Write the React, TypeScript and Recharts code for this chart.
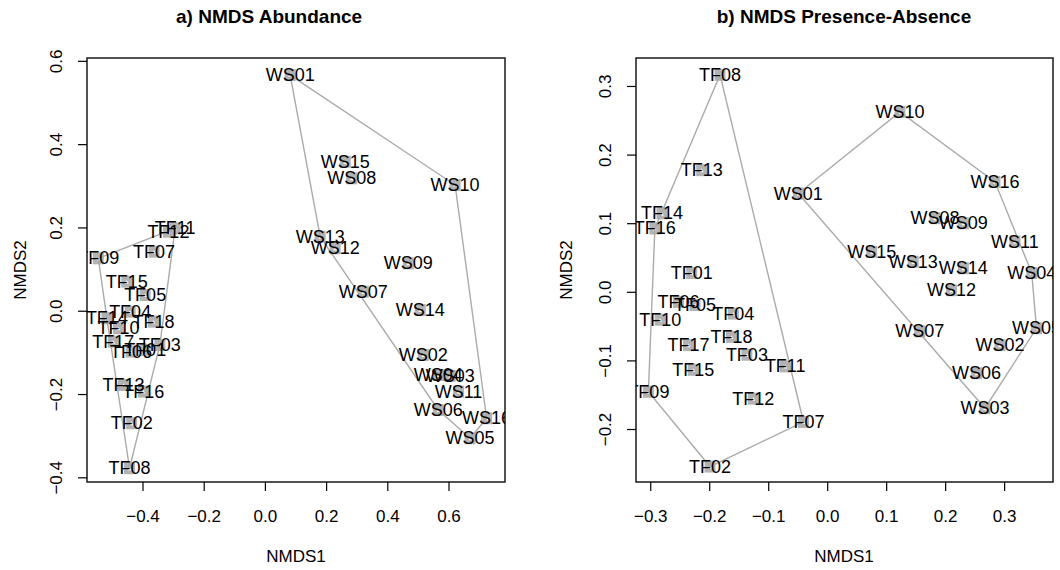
import { ScatterChart, Scatter, XAxis, YAxis, ReferenceArea } from "recharts";

// site codes, same order in both ordinations
const sites = [
  "TF01", "TF02", "TF03", "TF04", "TF05", "TF06", "TF07", "TF08", "TF09",
  "TF10", "TF11", "TF12", "TF13", "TF14", "TF15", "TF16", "TF17", "TF18",
  "WS01", "WS02", "WS03", "WS04", "WS05", "WS06", "WS07", "WS08",
  "WS09", "WS10", "WS11", "WS12", "WS13", "WS14", "WS15", "WS16",
];

// a) abundance NMDS scores
const abundanceNmds1 = [
  -0.393, -0.437, -0.345, -0.442, -0.393, -0.439, -0.364, -0.444, -0.546,
  -0.48, -0.295, -0.317, -0.464, -0.518, -0.453, -0.399, -0.497, -0.366,
  0.081, 0.516, 0.604, 0.565, 0.669, 0.565, 0.32, 0.282,
  0.467, 0.62, 0.631, 0.228, 0.179, 0.506, 0.261, 0.723,
];
const abundanceNmds2 = [
  -0.093, -0.269, -0.081, -0.001, 0.039, -0.097, 0.143, -0.377, 0.127,
  -0.041, 0.199, 0.191, -0.177, -0.017, 0.071, -0.193, -0.073, -0.025,
  0.567, -0.105, -0.155, -0.153, -0.305, -0.237, 0.047, 0.319,
  0.115, 0.303, -0.193, 0.151, 0.179, 0.003, 0.359, -0.257,
];

// b) presence-absence NMDS scores
const presenceNmds1 = [
  -0.2305, -0.1995, -0.137, -0.16, -0.225, -0.253, -0.041, -0.1825, -0.304,
  -0.284, -0.072, -0.126, -0.2136, -0.281, -0.228, -0.293, -0.236, -0.163,
  -0.0498, 0.292, 0.2666, 0.346, 0.354, 0.2525, 0.156, 0.182,
  0.23, 0.1225, 0.3175, 0.21, 0.145, 0.23, 0.0746, 0.2836,
];
const presenceNmds2 = [
  0.028, -0.254, -0.091, -0.031, -0.0185, -0.014, -0.189, 0.317, -0.145,
  -0.04, -0.108, -0.155, 0.178, 0.115, -0.113, 0.093, -0.077, -0.065,
  0.144, -0.077, -0.169, 0.028, -0.0525, -0.118, -0.057, 0.108,
  0.1005, 0.263, 0.074, 0.003, 0.0446, 0.035, 0.059, 0.161,
];

const abundanceTicksX = [-0.4, -0.2, 0, 0.2, 0.4, 0.6];
const abundanceTicksY = [-0.4, -0.2, 0, 0.2, 0.4, 0.6];
const presenceTicksX = [-0.3, -0.2, -0.1, 0, 0.1, 0.2, 0.3];
const presenceTicksY = [-0.2, -0.1, 0, 0.1, 0.2, 0.3];

const FONT = "'Liberation Sans', Arial, Helvetica, sans-serif";
const HULL_COLOR = "#ababab";
const MARK_COLOR = "#b3b3b3";

type Pt = { x: number; y: number; name: string };

const fmt = (v: number) => (v < 0 ? "\u2212" : "") + Math.abs(v).toFixed(1);

function hull(pts: Pt[]): Pt[] {
  const s = [...pts].sort((a, b) => a.x - b.x || a.y - b.y);
  const cross = (o: Pt, a: Pt, b: Pt) =>
    (a.x - o.x) * (b.y - o.y) - (a.y - o.y) * (b.x - o.x);
  const lower: Pt[] = [];
  for (const p of s) {
    while (lower.length >= 2 && cross(lower[lower.length - 2], lower[lower.length - 1], p) <= 0) lower.pop();
    lower.push(p);
  }
  const upper: Pt[] = [];
  for (const p of [...s].reverse()) {
    while (upper.length >= 2 && cross(upper[upper.length - 2], upper[upper.length - 1], p) <= 0) upper.pop();
    upper.push(p);
  }
  lower.pop();
  upper.pop();
  const h = lower.concat(upper);
  return [...h, h[0]];
}

function SquareMark(props: any) {
  const { cx, cy } = props;
  if (cx == null || cy == null) return <g />;
  return (
    <g>
      <rect x={cx - 5.5} y={cy - 6} width={11} height={12} fill={MARK_COLOR} />
      <polygon
        points={`${cx - 1.8},${cy + 2} ${cx + 1.8},${cy + 2} ${cx},${cy - 1.4}`}
        fill="#ffffff"
      />
    </g>
  );
}

function LabelMark(props: any) {
  const { cx, cy, payload } = props;
  if (cx == null || cy == null) return <g />;
  return (
    <text
      x={cx}
      y={cy}
      textAnchor="middle"
      dominantBaseline="central"
      fontFamily={FONT}
      fontSize={18}
      fill="#000"
    >
      {payload.name}
    </text>
  );
}

const NoMark = () => <g />;

type PanelProps = {
  xs: number[];
  ys: number[];
  xTicks: number[];
  yTicks: number[];
  xDomain: [number, number];
  yDomain: [number, number];
  yAxisWidth: number;
  marginRight: number;
};

const CHART_W = 530;
const CHART_H = 570;
const X_AXIS_H = 88;
const TOP = 58;

function Panel({ xs, ys, xTicks, yTicks, xDomain, yDomain, yAxisWidth, marginRight }: PanelProps) {
  const pts: Pt[] = sites.map((name, i) => ({ x: xs[i], y: ys[i], name }));
  const tf = hull(pts.filter((p) => p.name.startsWith("TF")));
  const ws = hull(pts.filter((p) => p.name.startsWith("WS")));
  const boxBottom = CHART_H - X_AXIS_H;

  const XTick = (p: any) => (
    <text x={p.x} y={boxBottom + 40} textAnchor="middle" fontFamily={FONT} fontSize={17} fill="#000">
      {fmt(p.payload.value)}
    </text>
  );
  const YTick = (p: any) => {
    const bx = yAxisWidth - 25;
    return (
      <text
        x={bx}
        y={p.y}
        transform={`rotate(-90, ${bx}, ${p.y})`}
        textAnchor="middle"
        fontFamily={FONT}
        fontSize={17}
        fill="#000"
      >
        {fmt(p.payload.value)}
      </text>
    );
  };

  return (
    <ScatterChart
      width={CHART_W}
      height={CHART_H}
      margin={{ top: TOP, right: marginRight, bottom: 0, left: 0 }}
    >
      <XAxis
        type="number"
        dataKey="x"
        domain={xDomain}
        ticks={xTicks}
        interval={0}
        allowDataOverflow
        axisLine={false}
        tickLine={{ stroke: "#000", strokeWidth: 1.2 }}
        tickSize={9}
        height={X_AXIS_H}
        tick={XTick}
      />
      <YAxis
        type="number"
        dataKey="y"
        domain={yDomain}
        ticks={yTicks}
        interval={0}
        allowDataOverflow
        axisLine={false}
        tickLine={{ stroke: "#000", strokeWidth: 1.2 }}
        tickSize={9}
        width={yAxisWidth}
        tick={YTick}
      />
      <Scatter data={pts} shape={SquareMark} isAnimationActive={false} />
      <Scatter
        data={tf}
        shape={NoMark}
        line={{ stroke: HULL_COLOR, strokeWidth: 1.4 }}
        isAnimationActive={false}
      />
      <Scatter
        data={ws}
        shape={NoMark}
        line={{ stroke: HULL_COLOR, strokeWidth: 1.4 }}
        isAnimationActive={false}
      />
      <Scatter data={pts} shape={LabelMark} isAnimationActive={false} />
      <ReferenceArea
        x1={xDomain[0]}
        x2={xDomain[1]}
        y1={yDomain[0]}
        y2={yDomain[1]}
        fill="none"
        stroke="#1a1a1a"
        strokeWidth={1.5}
        fillOpacity={0}
        ifOverflow="visible"
      />
    </ScatterChart>
  );
}

export default function App() {
  const textStyle = { fontFamily: FONT, fill: "#000" };
  return (
    <div style={{ position: "absolute", left: 0, top: 0, width: 1060, height: 570, background: "#fff", overflow: "hidden" }}>
      <div style={{ position: "absolute", left: 0, top: 0 }}>
        <Panel
          xs={abundanceNmds1}
          ys={abundanceNmds2}
          xTicks={abundanceTicksX}
          yTicks={abundanceTicksY}
          xDomain={[-0.583, 0.783]}
          yDomain={[-0.41, 0.608]}
          yAxisWidth={87}
          marginRight={25}
        />
      </div>
      <div style={{ position: "absolute", left: 530, top: 0 }}>
        <Panel
          xs={presenceNmds1}
          ys={presenceNmds2}
          xTicks={presenceTicksX}
          yTicks={presenceTicksY}
          xDomain={[-0.325, 0.382]}
          yDomain={[-0.2765, 0.3415]}
          yAxisWidth={106}
          marginRight={7}
        />
      </div>
      <svg width={1060} height={570} style={{ position: "absolute", left: 0, top: 0, pointerEvents: "none" }}>
        <text x={176} y={23} textAnchor="start" fontWeight="bold" fontSize={19} {...textStyle}>
          a) NMDS Abundance
        </text>
        <text x={844} y={23} textAnchor="middle" fontWeight="bold" fontSize={19} {...textStyle}>
          b) NMDS Presence-Absence
        </text>
        <text x={296} y={562} textAnchor="middle" fontSize={17} {...textStyle}>
          NMDS1
        </text>
        <text x={844} y={562} textAnchor="middle" fontSize={17} {...textStyle}>
          NMDS1
        </text>
        <text x={26} y={270} transform="rotate(-90, 26, 270)" textAnchor="middle" fontSize={17} {...textStyle}>
          NMDS2
        </text>
        <text x={572} y={270} transform="rotate(-90, 572, 270)" textAnchor="middle" fontSize={17} {...textStyle}>
          NMDS2
        </text>
      </svg>
    </div>
  );
}
